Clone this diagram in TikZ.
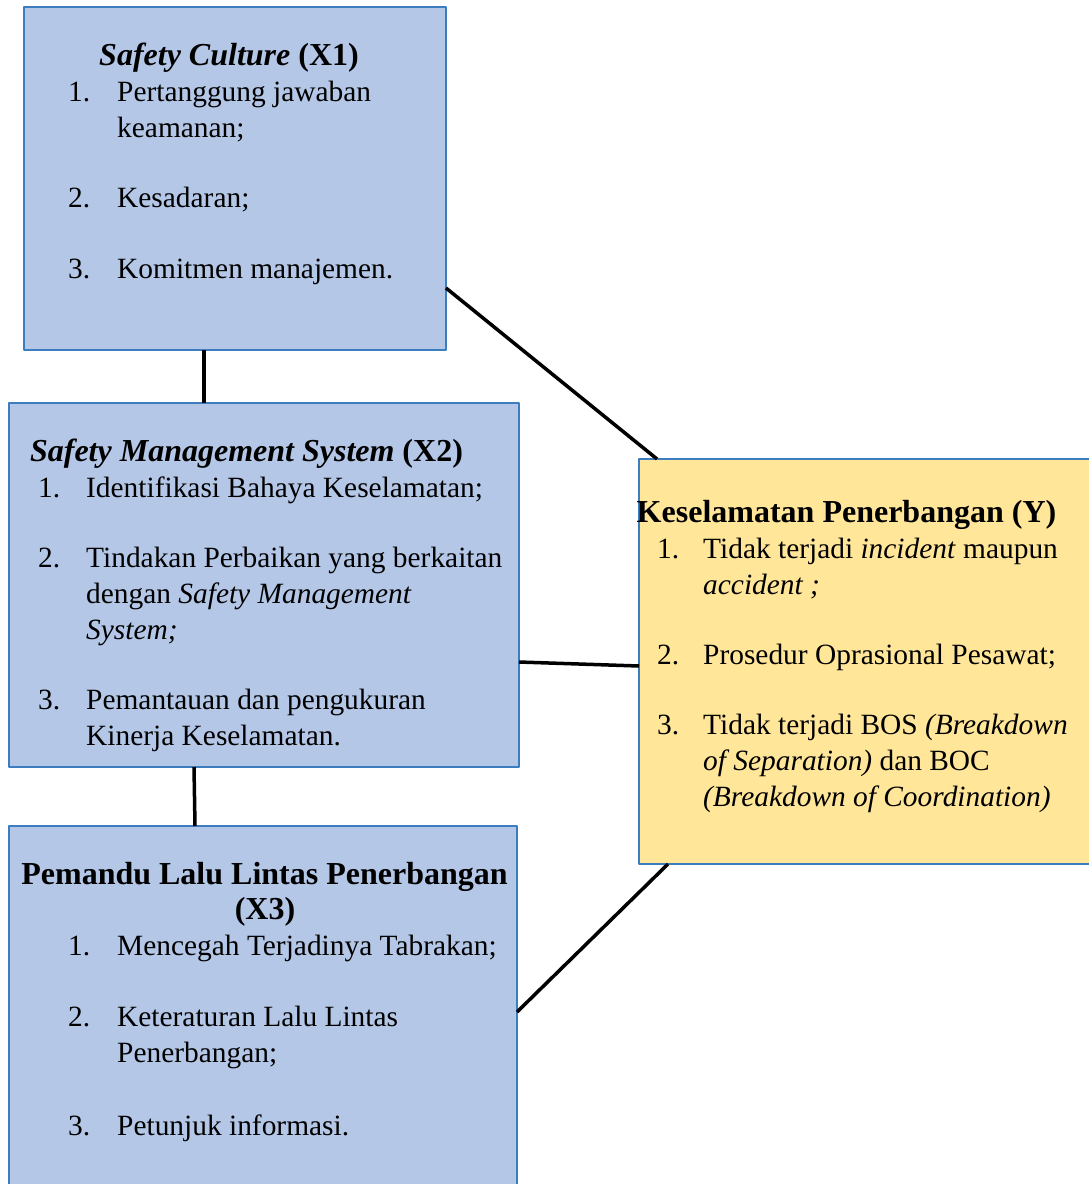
\documentclass[tikz,border=0pt]{standalone}
\usepackage{fontspec}
\setmainfont{Liberation Serif}
\definecolor{boxblue}{HTML}{B4C7E7}
\definecolor{boxyellow}{HTML}{FFE699}
\definecolor{edgeblue}{HTML}{3B7DBE}
\newcommand{\boxfont}{\fontsize{29.4}{36}\selectfont}
\newcommand{\headfont}{\fontsize{32}{36}\selectfont\bfseries}
\tikzset{
	varbox/.style = {rectangle, line width = 2.5pt, draw = edgeblue, fill = boxblue, anchor = north west, outer sep = 0pt, inner sep = 0pt},
	ttl/.style = {anchor = base, inner sep = 0pt, font = \headfont},
	num/.style = {anchor = base west, inner sep = 0pt},
	itm/.style = {anchor = base west, inner sep = 0pt},
	link/.style = {line width = 3.5pt, draw = black}
}
\begin{document}
\begin{tikzpicture}[x = 1pt, y = -1pt, line join = round, font = \boxfont]
	\useasboundingbox (0,0) rectangle (1089,1184);
	
	% boxes
	\node[varbox, minimum width = 422pt, minimum height = 343pt] (X1) at (24,7) {};
	\node[varbox, minimum width = 510pt, minimum height = 364pt] (X2) at (9,403) {};
	\node[varbox, minimum width = 508pt, minimum height = 390pt] (X3) at (9,826) {};
	\node[varbox, fill = boxyellow, minimum width = 470pt, minimum height = 405pt] (Y) at (639,459) {};
	
	% links
	\draw[link] ([xshift = 180pt]X1.south west) -- ([xshift = 195pt]X2.north west);
	\draw[link] ([xshift = 185pt]X2.south west) -- ([xshift = 186pt]X3.north west);
	\draw[link] ([yshift = 62pt]X1.south east) -- ([xshift = 18pt]Y.north west);
	\draw[link] ([yshift = -77pt]X2.east) -- ([yshift = -4.5pt]Y.west);
	\draw[link] ([yshift = -186pt]X3.north east) -- ([xshift = 29pt]Y.south west);
	
	% X1
	\node[ttl] (x1t) at (229,65) {\textit{Safety Culture} (X1)};
	\node[num] (x1n1) at (68,101) {1.};
	\node[itm] (x1a) at (117,101) {Pertanggung jawaban};
	\node[itm] (x1b) at (117,137) {keamanan;};
	\node[num] (x1n2) at (68,207) {2.};
	\node[itm] (x1c) at (117,207) {Kesadaran;};
	\node[num] (x1n3) at (68,278) {3.};
	\node[itm] (x1d) at (117,278) {Komitmen manajemen.};
	
	% X2
	\node[ttl] (x2t) at (246.5,461) {\textit{Safety Management System} (X2)};
	\node[num] (x2n1) at (38,497) {1.};
	\node[itm] (x2a) at (86,497) {Identifikasi Bahaya Keselamatan;};
	\node[num] (x2n2) at (38,567) {2.};
	\node[itm] (x2b) at (86,567) {Tindakan Perbaikan yang berkaitan};
	\node[itm] (x2c) at (86,603) {dengan \textit{Safety Management}};
	\node[itm] (x2d) at (86,639) {\textit{System;}};
	\node[num] (x2n3) at (38,709) {3.};
	\node[itm] (x2e) at (86,709) {Pemantauan dan pengukuran};
	\node[itm] (x2f) at (86,745) {Kinerja Keselamatan.};
	
	% X3
	\node[ttl] (x3t) at (264.5,884) {Pemandu Lalu Lintas Penerbangan};
	\node[ttl] (x3u) at (265,919) {(X3)};
	\node[num] (x3n1) at (68,955) {1.};
	\node[itm] (x3a) at (117,955) {Mencegah Terjadinya Tabrakan;};
	\node[num] (x3n2) at (68,1026) {2.};
	\node[itm] (x3b) at (117,1026) {Keteraturan Lalu Lintas};
	\node[itm] (x3c) at (117,1062) {Penerbangan;};
	\node[num] (x3n3) at (68,1135) {3.};
	\node[itm] (x3d) at (117,1135) {Petunjuk informasi.};
	
	% Y
	\node[ttl] (yt) at (846.5,522) {Keselamatan Penerbangan (Y)};
	\node[num] (yn1) at (657,558) {1.};
	\node[itm] (ya) at (703,558) {Tidak terjadi \textit{incident} maupun};
	\node[itm] (yb) at (703,594) {\textit{accident ;}};
	\node[num] (yn2) at (657,664) {2.};
	\node[itm] (yc) at (703,664) {Prosedur Oprasional Pesawat;};
	\node[num] (yn3) at (657,734) {3.};
	\node[itm] (yd) at (703,734) {Tidak terjadi BOS \textit{(Breakdown}};
	\node[itm] (ye) at (703,770) {\textit{of Separation)} dan BOC};
	\node[itm] (yf) at (703,806) {\textit{(Breakdown of Coordination)}};
\end{tikzpicture}
\end{document}
